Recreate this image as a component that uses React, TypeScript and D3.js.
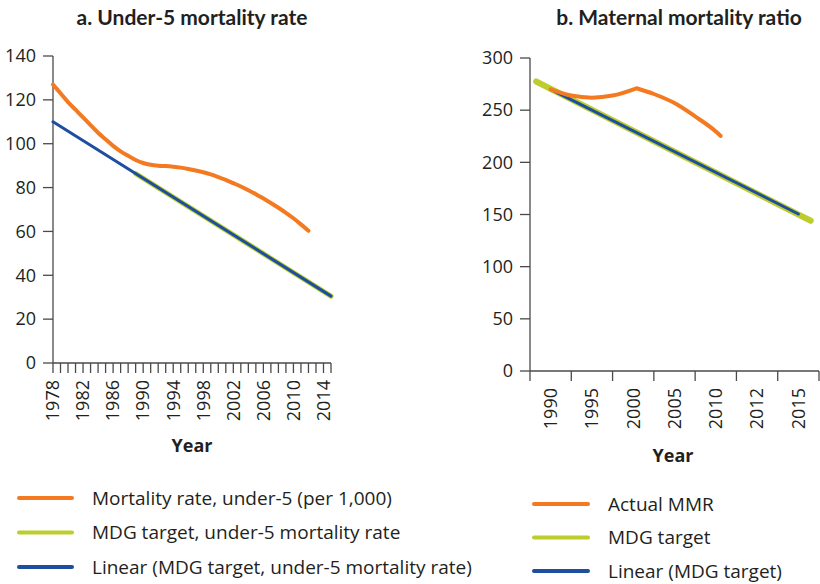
import React from 'react';
import * as d3 from 'd3';

// ---------- Panel a: Under-5 mortality rate ----------
const u5Years = [1978, 1979, 1980, 1981, 1982, 1983, 1984, 1985, 1986, 1987, 1988, 1989, 1990, 1991, 1992, 1993, 1994, 1995, 1996, 1997, 1998, 1999, 2000, 2001, 2002, 2003, 2004, 2005, 2006, 2007, 2008, 2009, 2010, 2011, 2012];
const u5Rate = [127, 123, 119, 115.5, 112, 108.5, 105, 102, 99, 96.5, 94.5, 92.6, 91.2, 90.4, 90, 89.8, 89.5, 89.1, 88.5, 87.8, 87, 86, 84.8, 83.5, 82, 80.5, 78.8, 77, 75, 73, 70.8, 68.5, 66, 63.2, 60.3];
const u5TargetYears = [1989, 2015];
const u5Target = [86.4, 30.5];
const u5LinearYears = [1978, 2015];
const u5Linear = [110, 30.5];
const u5AxisYears = [1978, 2015];
const u5LabelYears = [1978, 1982, 1986, 1990, 1994, 1998, 2002, 2006, 2010, 2014];
const u5YTicks = [0, 20, 40, 60, 80, 100, 120, 140];

// ---------- Panel b: Maternal mortality ratio ----------
const mmrCategories = ['1990', '1995', '2000', '2005', '2010', '2012', '2015'];
// actual MMR, read along the category positions; rising part then falling part (they meet at the 2000 peak)
const mmrActualRisePos = [0, 0.5, 1, 1.5, 2.08];
const mmrActualRise = [270, 264, 262, 264, 271];
const mmrActualFallPos = [2.08, 2.5, 3, 3.5, 4, 4.12];
const mmrActualFall = [271, 265.5, 256.8, 244, 229.6, 225.3];
const mmrTargetPos = [-0.35, 6.3];
const mmrTarget = [277.5, 144];
const mmrLinearPos = [0, 6];
const mmrLinear = [270, 150.5];
const mmrYTicks = [0, 50, 100, 150, 200, 250, 300];

const legendA = ['Mortality rate, under-5 (per 1,000)', 'MDG target, under-5 mortality rate', 'Linear (MDG target, under-5 mortality rate)'];
const legendB = ['Actual MMR', 'MDG target', 'Linear (MDG target)'];

const ORANGE = '#f47a22';
const GREEN = '#bccd2d';
const BLUE = '#1e4e9e';
const AXIS = '#4a4a4a';
const TEXT = '#231f20';
const FONT = "'Open Sans', 'Noto Sans', sans-serif";
const TITLE_FONT = "Lato, 'Open Sans', sans-serif";

export default function App() {
  // Panel a scales
  const xA = d3.scaleLinear().domain(u5AxisYears).range([53, 331]);
  const yA = d3.scaleLinear().domain([0, 140]).range([363, 56]);
  const lineA = d3.line<[number, number]>().x(d => xA(d[0])).y(d => yA(d[1]));
  const smoothA = d3.line<[number, number]>().x(d => xA(d[0])).y(d => yA(d[1])).curve(d3.curveMonotoneX);
  const yearTicksA = d3.range(u5AxisYears[0], u5AxisYears[1] + 1);

  // Panel b scales
  const xB = d3.scaleBand<string>().domain(mmrCategories).range([530, 819]);
  const posB = (i: number) => xB.range()[0] + xB.step() * (i + 0.5);
  const yB = d3.scaleLinear().domain([0, 300]).range([371, 58]);
  const lineB = d3.line<[number, number]>().x(d => posB(d[0])).y(d => yB(d[1]));
  const smoothB = d3.line<[number, number]>().x(d => posB(d[0])).y(d => yB(d[1])).curve(d3.curveMonotoneX);

  const zip = (a: number[], b: number[]) => a.map((v, i) => [v, b[i]] as [number, number]);

  const edgesB = mmrCategories.map(c => xB(c)!).concat([xB.range()[1]]);

  return (
    <svg width={820} height={584} style={{ position: 'absolute', left: 0, top: 0, background: '#fff' }} fontFamily={FONT}>
      <rect width={820} height={584} fill="#fff" />
      {/* Titles */}
      <text x={192} y={25} textAnchor="middle" fontSize={21} fontWeight="bold" fill={TEXT} fontFamily={TITLE_FONT}>a. Under-5 mortality rate</text>
      <text x={679} y={25} textAnchor="middle" fontSize={21} fontWeight="bold" fill={TEXT} fontFamily={TITLE_FONT}>b. Maternal mortality ratio</text>

      {/* Panel a axes */}
      <g>
        <line x1={53} x2={53} y1={yA(140)} y2={yA(0)} stroke={AXIS} strokeWidth={1.3} />
        <line x1={53} x2={331} y1={yA(0)} y2={yA(0)} stroke={AXIS} strokeWidth={1.3} />
        {u5YTicks.map(t => (
          <g key={t}>
            <line x1={43} x2={53} y1={yA(t)} y2={yA(t)} stroke={AXIS} strokeWidth={1.3} />
            <text x={36} y={yA(t)} dy="0.35em" textAnchor="end" fontSize={18} fill={TEXT}>{t}</text>
          </g>
        ))}
        {yearTicksA.map(t => (
          <line key={t} x1={xA(t)} x2={xA(t)} y1={yA(0)} y2={yA(0) + 10} stroke={AXIS} strokeWidth={1.3} />
        ))}
        {u5LabelYears.map(t => (
          <text key={t} transform={`translate(${xA(t)},380) rotate(-90)`} dy="0.35em" textAnchor="end" fontSize={18} fill={TEXT}>{t}</text>
        ))}
        <text x={192} y={452} textAnchor="middle" fontSize={18} fontWeight="bold" fill={TEXT}>Year</text>
      </g>
      {/* Panel a lines */}
      <path d={lineA(zip(u5TargetYears, u5Target))!} fill="none" stroke={GREEN} strokeWidth={5} strokeLinecap="round" />
      <path d={lineA(zip(u5LinearYears, u5Linear))!} fill="none" stroke={BLUE} strokeWidth={3} strokeLinecap="round" />
      <path d={smoothA(zip(u5Years, u5Rate))!} fill="none" stroke={ORANGE} strokeWidth={4} strokeLinecap="round" />

      {/* Panel b axes */}
      <g>
        <line x1={530} x2={530} y1={yB(300)} y2={yB(0)} stroke={AXIS} strokeWidth={1.3} />
        <line x1={530} x2={819} y1={yB(0)} y2={yB(0)} stroke={AXIS} strokeWidth={1.3} />
        {mmrYTicks.map(t => (
          <g key={t}>
            <line x1={520} x2={530} y1={yB(t)} y2={yB(t)} stroke={AXIS} strokeWidth={1.3} />
            <text x={513} y={yB(t)} dy="0.35em" textAnchor="end" fontSize={18} fill={TEXT}>{t}</text>
          </g>
        ))}
        {edgesB.map((e, i) => (
          <line key={i} x1={e} x2={e} y1={yB(0)} y2={yB(0) + 10} stroke={AXIS} strokeWidth={1.3} />
        ))}
        {mmrCategories.map(c => (
          <text key={c} transform={`translate(${xB(c)! + xB.bandwidth() / 2},388) rotate(-90)`} dy="0.35em" textAnchor="end" fontSize={18} fill={TEXT}>{c}</text>
        ))}
        <text x={673} y={462} textAnchor="middle" fontSize={18} fontWeight="bold" fill={TEXT}>Year</text>
      </g>
      {/* Panel b lines */}
      <path d={lineB(zip(mmrTargetPos, mmrTarget))!} fill="none" stroke={GREEN} strokeWidth={6} strokeLinecap="round" />
      <path d={lineB(zip(mmrLinearPos, mmrLinear))!} fill="none" stroke={BLUE} strokeWidth={3} strokeLinecap="round" />
      <path d={smoothB(zip(mmrActualRisePos, mmrActualRise))! + smoothB(zip(mmrActualFallPos, mmrActualFall))!.replace(/^M/, 'L')} fill="none" stroke={ORANGE} strokeWidth={4} strokeLinecap="round" strokeLinejoin="round" />

      {/* Legends */}
      {legendA.map((l, i) => (
        <g key={l} transform={`translate(0,${498 + i * 34.5})`}>
          <line x1={19} x2={72} y1={0} y2={0} stroke={[ORANGE, GREEN, BLUE][i]} strokeWidth={4} strokeLinecap="round" />
          <text x={92} y={0} dy="0.35em" fontSize={19} fill={TEXT}>{l}</text>
        </g>
      ))}
      {legendB.map((l, i) => (
        <g key={l} transform={`translate(0,${504 + i * 33.5})`}>
          <line x1={534} x2={588} y1={0} y2={0} stroke={[ORANGE, GREEN, BLUE][i]} strokeWidth={4} strokeLinecap="round" />
          <text x={608} y={0} dy="0.35em" fontSize={19} fill={TEXT}>{l}</text>
        </g>
      ))}
    </svg>
  );
}
